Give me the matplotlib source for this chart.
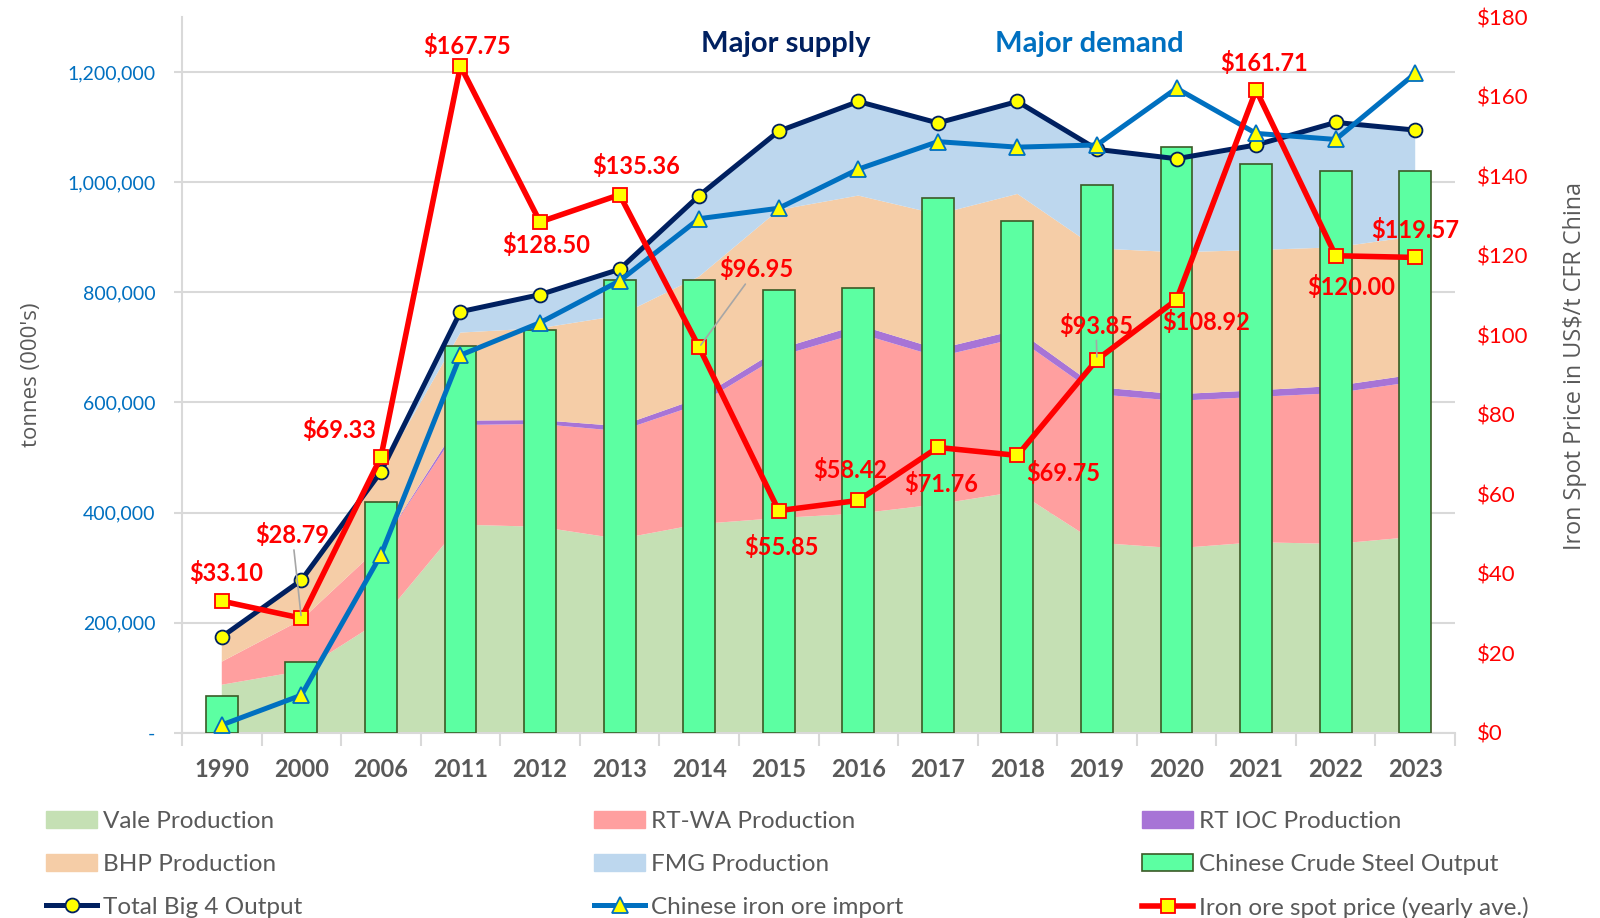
import numpy as np
import matplotlib.pyplot as plt
from matplotlib.patches import Patch
from matplotlib.ticker import FuncFormatter

# '000 tonnes
years = ['1990', '2000', '2006', '2011', '2012', '2013', '2014', '2015',
         '2016', '2017', '2018', '2019', '2020', '2021', '2022', '2023']
vale = [87000, 112000, 204000, 378000, 374000, 352000, 379000, 390000,
        398000, 415000, 438000, 345000, 335000, 346000, 343000, 356000]
rt_wa = [42000, 93000, 136000, 181000, 187000, 196000, 218000, 294000,
         328000, 268000, 279000, 270000, 268000, 264000, 274000, 282000]
rt_ioc = [0, 0, 0, 8000, 7000, 9000, 11000, 13000,
          15000, 14000, 15000, 13000, 12000, 12000, 13000, 13000]
bhp = [45000, 72000, 134000, 160000, 167000, 201000, 221000, 253000,
       235000, 245000, 247000, 252000, 258000, 255000, 252000, 251000]
fmg = [0, 0, 0, 38000, 61000, 84000, 147000, 143000,
       171000, 166000, 169000, 180000, 170000, 191000, 227000, 193000]
steel = [66000, 128000, 419000, 702000, 731000, 822000, 822000, 804000,
         808000, 971000, 929000, 996000, 1065000, 1033000, 1020000, 1020000]
total_big4 = [174000, 277000, 474000, 765000, 796000, 842000, 976000, 1093000,
              1147000, 1108000, 1147000, 1060000, 1043000, 1068000, 1109000, 1095000]
ore_import = [14000, 68000, 323000, 686000, 745000, 821000, 934000, 953000,
              1024000, 1074000, 1064000, 1068000, 1171000, 1089000, 1078000, 1198000]
# US$/t
price = [33.10, 28.79, 69.33, 167.75, 128.50, 135.36, 96.95, 55.85,
         58.42, 71.76, 69.75, 93.85, 108.92, 161.71, 120.00, 119.57]

# label offsets from the point, in pixels
label_off = [(4, 28), (-9, 83), (-42, 27), (7, 20), (6, -23), (16, 29), (57, 78), (3, -36),
             (-8, 30), (3, -37), (46, -18), (-1, 34), (30, -22), (8, 27), (16, -31), (0, 27)]
leader = [False, True, False, False, False, False, True, False,
          False, False, False, True, False, False, False, False]

plt.rcParams['font.family'] = ['Lato', 'DejaVu Sans']
grey = '#595959'

fig = plt.figure(figsize=(16, 9.18), dpi=100)
ax = fig.add_axes([182 / 1600, 1 - 732.6 / 918, (1455 - 182) / 1600, (732.6 - 17.3) / 918])
x = np.arange(len(years))

area_cols = ['#C5E0B4', '#FF9F9F', '#A774D6', '#F5CDA7', '#BDD7EE']
areas = ax.stackplot(x, vale, rt_wa, rt_ioc, bhp, fmg, colors=area_cols, linewidth=0, zorder=2)
bars = ax.bar(x, steel, width=0.4, color='#5CFFA2', edgecolor='#3B5A26', linewidth=1.2, zorder=3)
l_tot, = ax.plot(x, total_big4, color='#002060', lw=3.6, marker='o', ms=10, mfc='#FFFF00',
                 mec='#002060', mew=1.3, zorder=4)
l_imp, = ax.plot(x, ore_import, color='#0070C0', lw=3.6, marker='^', ms=11, mfc='#FFFF00',
                 mec='#0070C0', mew=1.3, zorder=5)

ax.set_xlim(-0.5, len(years) - 0.5)
ax.set_ylim(0, 1300000)
ax.set_yticks(range(0, 1200001, 200000))
ax.yaxis.set_major_formatter(FuncFormatter(lambda v, p: '-' if v == 0 else f'{v:,.0f}'))
ax.grid(axis='y', color='#D9D9D9', lw=1.5, zorder=0)
ax.set_axisbelow(True)
ax.set_xticks(x)
ax.set_xticklabels(years, fontsize=17, fontweight='bold', color=grey)
ax.set_xticks(np.arange(-0.5, len(years), 1), minor=True)
ax.tick_params(axis='x', which='major', length=0, pad=18)
ax.tick_params(axis='x', which='minor', length=9, width=1.5, color='#D9D9D9')
ax.tick_params(axis='y', length=6, width=1.5, color='#D9D9D9', labelcolor='#0070C0',
               labelsize=14, pad=13)
for s in ['top', 'right']:
    ax.spines[s].set_visible(False)
ax.spines['left'].set_color('#D9D9D9')
ax.spines['left'].set_linewidth(1.5)
ax.spines['bottom'].set_color('#D9D9D9')
ax.spines['bottom'].set_linewidth(1.5)

ax2 = ax.twinx()
ax2.set_ylim(0, 180)
ax2.set_yticks(range(0, 181, 20))
ax2.yaxis.set_major_formatter(FuncFormatter(lambda v, p: f'${v:.0f}'))
ax2.tick_params(axis='y', length=0, labelcolor='#FF0000', labelsize=16, pad=15.5)
for s in ax2.spines.values():
    s.set_visible(False)
l_price, = ax2.plot(x, price, color='#FF0000', lw=4, marker='s', ms=9.5, mfc='#FFFF00',
                    mec='#FF0000', mew=1.3, zorder=6)

for i, p in enumerate(price):
    arrow = dict(arrowstyle='-', color='#A6A6A6', lw=1.2, shrinkA=0, shrinkB=2) if leader[i] else None
    ax2.annotate(f'${p:.2f}', (x[i], p), xytext=label_off[i], textcoords='offset pixels',
                 ha='center', va='center', fontsize=17, fontweight='bold', color='#FF0000',
                 arrowprops=arrow, zorder=7)

fig.text(786 / 1600, 1 - 44 / 918, 'Major supply', ha='center', va='center',
         fontsize=21, fontweight='bold', color='#002060')
fig.text(1089 / 1600, 1 - 44 / 918, 'Major demand', ha='center', va='center',
         fontsize=21, fontweight='bold', color='#0070C0')

fig.text(31 / 1600, 1 - 375 / 918, "tonnes (000's)", rotation=90, ha='center', va='center',
         fontsize=16, color=grey, family='Open Sans')
fig.text(1575 / 1600, 1 - 366 / 918, 'Iron Spot Price in US$/t CFR China', rotation=90,
         ha='center', va='center', fontsize=16.8, color=grey, family='Open Sans')

cols = [
    ([Patch(color=area_cols[0]), Patch(color=area_cols[3]), l_tot],
     ['Vale Production', 'BHP Production', 'Total Big 4 Output'], 46),
    ([Patch(color=area_cols[1]), Patch(color=area_cols[4]), l_imp],
     ['RT-WA Production', 'FMG Production', 'Chinese iron ore import'], 594),
    ([Patch(color=area_cols[2]), bars, l_price],
     ['RT IOC Production', 'Chinese Crude Steel Output', 'Iron ore spot price (yearly ave.)'], 1142),
]
for hs, ls, xl in cols:
    fig.legend(hs, ls, loc='upper left', bbox_to_anchor=(xl / 1600, 1 - 811 / 918),
               frameon=False, borderpad=0, borderaxespad=0, fontsize=17.5,
               labelcolor=grey, handlelength=2.1, handleheight=0.7, handletextpad=0.25,
               labelspacing=0.9)

fig.savefig('out.png', dpi=100)
